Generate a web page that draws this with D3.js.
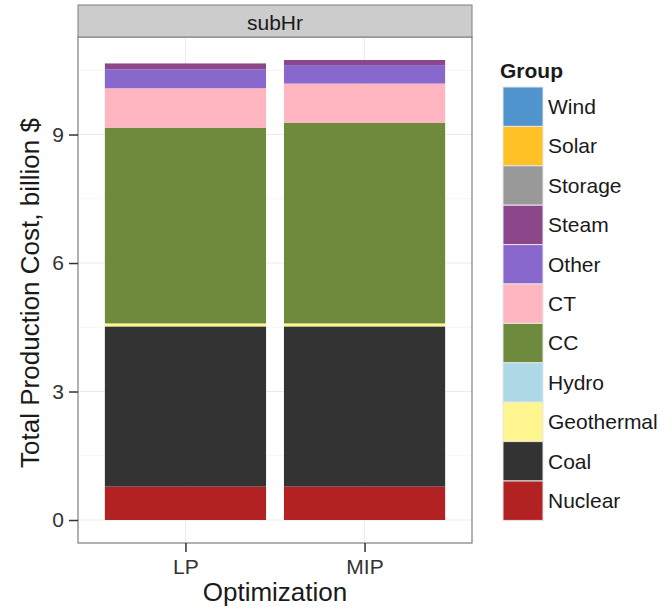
<!DOCTYPE html>
<html>
<head>
<meta charset="utf-8">
<script src="https://cdn.jsdelivr.net/npm/d3@7"></script>
<style>
  body { margin: 0; background: #fff; }
  svg { font-family: "Liberation Sans", Arial, sans-serif; }
</style>
</head>
<body>
<div id="chart"></div>
<script>
// Data (billion $)
const categories = ["LP", "MIP"];
const groups = ["Nuclear", "Coal", "Geothermal", "Hydro", "CC", "CT", "Other", "Steam", "Storage", "Solar", "Wind"];
const colors = ["#b22222", "#333333", "#fff68f", "#add8e6", "#6e8b3d", "#ffb6c1", "#8968cd", "#8b4789", "#999999", "#ffc125", "#4f94cd"];
const lpValues  = [0.78, 3.74, 0.07, 0, 4.57, 0.92, 0.44, 0.14, 0, 0, 0];
const mipValues = [0.78, 3.74, 0.07, 0, 4.68, 0.92, 0.43, 0.12, 0, 0, 0];
const yTicks = [0, 3, 6, 9];
const yMinor = [1.5, 4.5, 7.5, 10.5];

const width = 670, height = 609;
const panel = { left: 78, right: 472, top: 37, bottom: 543 };

const svg = d3.select("#chart").append("svg")
  .attr("width", width)
  .attr("height", height);

// build rows for the stack
const rows = categories.map((c, i) => {
  const vals = i === 0 ? lpValues : mipValues;
  const row = { cat: c };
  groups.forEach((g, j) => row[g] = vals[j]);
  return row;
});
const series = d3.stack().keys(groups)(rows);
const maxVal = d3.max(series[series.length - 1], d => d[1]);
const pad = maxVal * 0.05;

const y = d3.scaleLinear()
  .domain([-pad, maxVal + pad])
  .range([panel.bottom, panel.top]);

// ggplot discrete: 0.6 expansion each side, bar width 0.9
const x = d3.scaleLinear()
  .domain([0.4, categories.length + 0.6])
  .range([panel.left, panel.right]);
const cx = c => x(categories.indexOf(c) + 1);
const barW = x(1.9) - x(1);

const color = d3.scaleOrdinal().domain(groups).range(colors);

// panel background
svg.append("rect")
  .attr("x", panel.left).attr("y", panel.top)
  .attr("width", panel.right - panel.left)
  .attr("height", panel.bottom - panel.top)
  .attr("fill", "#fff");

// minor grid
svg.append("g").selectAll("line")
  .data(yMinor)
  .join("line")
  .attr("x1", panel.left).attr("x2", panel.right)
  .attr("y1", d => y(d)).attr("y2", d => y(d))
  .attr("stroke", "#f5f5f5").attr("stroke-width", 1);

// major grid
svg.append("g").selectAll("line")
  .data(yTicks)
  .join("line")
  .attr("x1", panel.left).attr("x2", panel.right)
  .attr("y1", d => y(d)).attr("y2", d => y(d))
  .attr("stroke", "#ebebeb").attr("stroke-width", 1);

svg.append("g").selectAll("line")
  .data(categories)
  .join("line")
  .attr("x1", d => cx(d)).attr("x2", d => cx(d))
  .attr("y1", panel.top).attr("y2", panel.bottom)
  .attr("stroke", "#ebebeb").attr("stroke-width", 1);

// bars
svg.append("g").selectAll("g")
  .data(series)
  .join("g")
  .attr("fill", d => color(d.key))
  .selectAll("rect")
  .data(d => d)
  .join("rect")
  .attr("x", d => cx(d.data.cat) - barW / 2)
  .attr("width", barW)
  .attr("y", d => y(d[1]))
  .attr("height", d => y(d[0]) - y(d[1]));

// panel border
svg.append("rect")
  .attr("x", panel.left).attr("y", panel.top)
  .attr("width", panel.right - panel.left)
  .attr("height", panel.bottom - panel.top)
  .attr("fill", "none")
  .attr("stroke", "#7f7f7f").attr("stroke-width", 1.2);

// strip
svg.append("rect")
  .attr("x", panel.left).attr("y", 5)
  .attr("width", panel.right - panel.left)
  .attr("height", panel.top - 5)
  .attr("fill", "#cccccc")
  .attr("stroke", "#7f7f7f").attr("stroke-width", 1);
svg.append("text")
  .attr("x", (panel.left + panel.right) / 2)
  .attr("y", 30)
  .attr("text-anchor", "middle")
  .attr("font-size", 21)
  .attr("fill", "#1a1a1a")
  .text("subHr");

// y axis
const yAxis = svg.append("g")
  .attr("transform", `translate(${panel.left},0)`)
  .call(d3.axisLeft(y).tickValues(yTicks).tickSize(9).tickPadding(5).tickFormat(d3.format("d")));
yAxis.select(".domain").remove();
yAxis.selectAll(".tick line").attr("stroke", "#333").attr("stroke-width", 1.5);
yAxis.selectAll(".tick text").attr("font-size", 21).attr("fill", "#333")
  .attr("font-family", "Liberation Sans, Arial, sans-serif");

// x axis
const xAxis = svg.append("g")
  .attr("transform", `translate(0,${panel.bottom})`)
  .call(d3.axisBottom(x).tickValues(categories.map((c, i) => i + 1))
    .tickFormat(d => categories[d - 1]).tickSize(9).tickPadding(7));
xAxis.select(".domain").remove();
xAxis.selectAll(".tick line").attr("stroke", "#333").attr("stroke-width", 1.5);
xAxis.selectAll(".tick text").attr("font-size", 21).attr("fill", "#333")
  .attr("font-family", "Liberation Sans, Arial, sans-serif");

// axis titles
svg.append("text")
  .attr("x", (panel.left + panel.right) / 2)
  .attr("y", 601)
  .attr("text-anchor", "middle")
  .attr("font-size", 26)
  .attr("fill", "#1a1a1a")
  .text("Optimization");

svg.append("text")
  .attr("transform", `translate(30,${(panel.top + panel.bottom) / 2 + 3}) rotate(-90)`)
  .attr("text-anchor", "middle")
  .attr("dy", "0.35em")
  .attr("font-size", 26)
  .attr("fill", "#1a1a1a")
  .text("Total Production Cost, billion $");

// legend (reversed so Wind is on top)
const legend = svg.append("g");
legend.append("text")
  .attr("x", 500).attr("y", 78)
  .attr("font-size", 21).attr("font-weight", "bold")
  .attr("fill", "#1a1a1a")
  .text("Group");

const keyH = 39.4;
const legendItems = legend.selectAll("g.key")
  .data(groups.slice().reverse())
  .join("g")
  .attr("class", "key")
  .attr("transform", (d, i) => `translate(503,${87 + i * keyH})`);
legendItems.append("rect")
  .attr("width", 40).attr("height", keyH)
  .attr("fill", d => color(d))
  .attr("stroke", "#e6e6e6").attr("stroke-width", 1);
legendItems.append("text")
  .attr("x", 45).attr("y", keyH / 2)
  .attr("dy", "0.35em")
  .attr("font-size", 21)
  .attr("fill", "#1a1a1a")
  .text(d => d);
</script>
</body>
</html>
